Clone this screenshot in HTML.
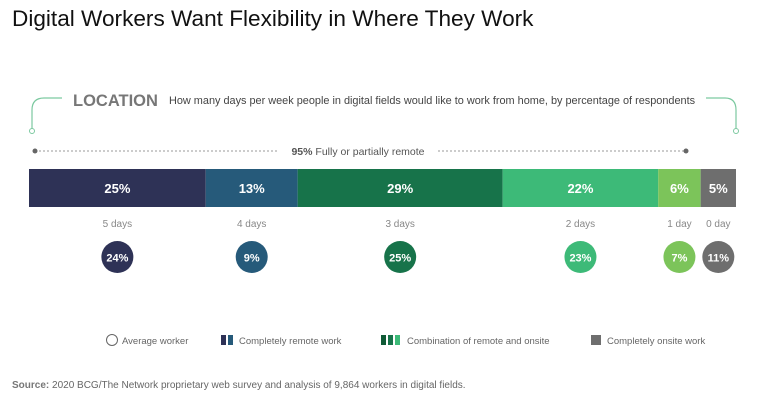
<!DOCTYPE html>
<html><head><meta charset="utf-8"><style>
body{margin:0;width:768px;height:405px;background:#fff;font-family:"Liberation Sans",sans-serif;overflow:hidden;position:relative}
</style></head><body>
<div style="position:absolute;left:12px;top:6px;font-size:22.6px;color:#111">Digital Workers Want Flexibility in Where They Work</div>
<svg id="c" width="768" height="405" style="position:absolute;left:0;top:0">
<path d="M62 98 H44 Q32 98 32 110 V131" fill="none" stroke="#7cc9a0" stroke-width="1.2"/>
<circle cx="32" cy="131" r="2.5" fill="#fff" stroke="#7cc9a0"/>
<path d="M706 98 H725 Q736 98 736 110 V131" fill="none" stroke="#7cc9a0" stroke-width="1.2"/>
<circle cx="736" cy="131" r="2.5" fill="#fff" stroke="#7cc9a0"/>
<text x="73" y="106" font-size="16.5" font-weight="bold" fill="#777">LOCATION</text>
<text x="169" y="104" font-size="10.9" fill="#444">How many days per week people in digital fields would like to work from home, by percentage of respondents</text>
<line x1="35" y1="151" x2="278" y2="151" stroke="#999" stroke-dasharray="2,2"/>
<line x1="438" y1="151" x2="686" y2="151" stroke="#999" stroke-dasharray="2,2"/>
<circle cx="35" cy="151" r="2.5" fill="#666"/>
<circle cx="686" cy="151" r="2.5" fill="#666"/>
<text x="358" y="155" font-size="10.5" fill="#555" text-anchor="middle"><tspan font-weight="bold">95%</tspan> Fully or partially remote</text>
<g id="bars"></g>
<g>
<circle cx="112" cy="340" r="5.5" fill="#fff" stroke="#666"/>
<text x="122" y="344" font-size="9.5" fill="#666">Average worker</text>
<rect x="221" y="335" width="5" height="10" fill="#2e3256"/><rect x="228" y="335" width="5" height="10" fill="#265a7a"/>
<text x="239" y="344" font-size="9.5" fill="#666">Completely remote work</text>
<rect x="381" y="335" width="5" height="10" fill="#0f5a36"/><rect x="388" y="335" width="5" height="10" fill="#17734a"/><rect x="395" y="335" width="5" height="10" fill="#3dba78"/>
<text x="407" y="344" font-size="9.5" fill="#666">Combination of remote and onsite</text>
<rect x="591" y="335" width="10" height="10" fill="#6e6e6e"/>
<text x="607" y="344" font-size="9.5" fill="#666">Completely onsite work</text>
</g>
<text x="12" y="388" font-size="10" fill="#666"><tspan font-weight="bold" fill="#777">Source:</tspan> 2020 BCG/The Network proprietary web survey and analysis of 9,864 workers in digital fields.</text>
</svg>
<script>
const categories=["5 days","4 days","3 days","2 days","1 day","0 day"];
const preferred=[25,13,29,22,6,5];
const average=[24,9,25,23,7,11];
const colors=["#2e3256","#265a7a","#17734a","#3dba78","#7cc45a","#6e6e6e"];
const NS="http://www.w3.org/2000/svg";
const g=document.getElementById("bars");
const x0=29,x1=736,total=preferred.reduce((a,b)=>a+b,0);
const xs=v=>v/total*(x1-x0);
function mk(t,a){const e=document.createElementNS(NS,t);for(const k in a)e.setAttribute(k,a[k]);g.appendChild(e);return e;}
let cx=x0;
preferred.forEach((v,i)=>{
 const w=xs(v),mid=cx+w/2;
 const r=mk("rect",{x:cx,y:169,width:w,height:38,fill:colors[i]});
 
 
 const t=mk("text",{x:mid,y:193,"font-size":13,"font-weight":"bold",fill:"#fff","text-anchor":"middle"});t.textContent=v+"%";
 
 
 const c=mk("text",{x:mid,y:227,"font-size":10,fill:"#888","text-anchor":"middle"});c.textContent=categories[i];
 
 
 const ci=mk("circle",{cx:mid,cy:257,r:16,fill:colors[i]});
 
 
 const ct=mk("text",{x:mid,y:261.5,"font-size":11,"font-weight":"bold",fill:"#fff","text-anchor":"middle"});ct.textContent=average[i]+"%";
 
 
 cx+=w;
});
</script>
</body></html>
